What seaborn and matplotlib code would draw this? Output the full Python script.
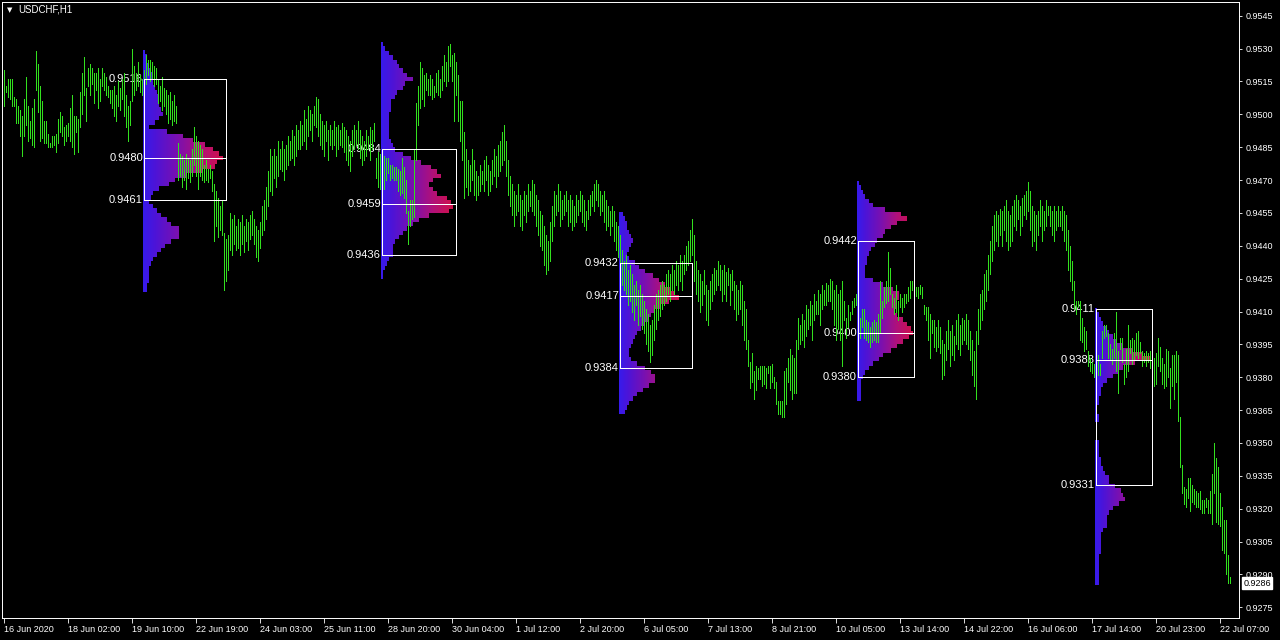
import matplotlib
matplotlib.use('Agg')
import matplotlib.pyplot as plt
from matplotlib.patches import Rectangle
from matplotlib.transforms import blended_transform_factory
import numpy as np
import seaborn as sns

symbol = 'USDCHF,H1'
last_price = 0.9286

# hourly bars, high / low in pips above 0.9000
bar_high = [
    520, 513, 516, 516, 516, 508, 507, 504, 502, 499,
    507, 517, 504, 497, 503, 507, 529, 523, 513, 506,
    497, 497, 491, 487, 490, 490, 491, 498, 501, 499,
    494, 495, 496, 503, 509, 499, 499, 498, 510, 519,
    526, 512, 521, 523, 521, 519, 519, 521, 516, 521,
    519, 517, 513, 511, 511, 513, 509, 515, 512, 516,
    519, 509, 504, 506, 530, 522, 519, 524, 518, 516,
    520, 527, 525, 525, 524, 522, 521, 516, 513, 517,
    512, 511, 509, 510, 506, 509, 504, 487, 482, 481,
    479, 482, 480, 479, 484, 494, 490, 488, 486, 484,
    477, 479, 475, 477, 474, 468, 465, 462, 458, 461,
    446, 443, 445, 455, 452, 454, 449, 452, 451, 454,
    449, 452, 451, 454, 456, 452, 449, 447, 451, 458,
    461, 467, 474, 484, 481, 484, 481, 488, 484, 488,
    484, 486, 490, 488, 493, 490, 495, 493, 497, 495,
    502, 498, 504, 502, 500, 504, 508, 507, 500, 497,
    495, 497, 493, 495, 493, 497, 494, 495, 493, 496,
    494, 493, 490, 488, 493, 495, 493, 497, 493, 490,
    488, 493, 490, 494, 493, 496, 480, 483, 482, 481,
    481, 480, 480, 477, 477, 476, 476, 475, 474, 480,
    476, 470, 456, 461, 461, 484, 505, 513, 524, 521,
    518, 519, 516, 518, 516, 513, 519, 520, 516, 522,
    527, 524, 531, 532, 527, 528, 524, 518, 506, 506,
    492, 484, 479, 477, 484, 479, 474, 472, 477, 474,
    479, 481, 477, 474, 479, 484, 481, 486, 488, 492,
    495, 488, 479, 472, 468, 465, 463, 468, 463, 461,
    465, 463, 468, 465, 470, 468, 463, 461, 456, 454,
    449, 445, 442, 451, 458, 465, 463, 468, 465, 461,
    463, 465, 461, 463, 461, 458, 463, 461, 465, 463,
    461, 456, 461, 463, 465, 468, 470, 468, 465, 463,
    465, 461, 458, 456, 458, 456, 451, 449, 445, 438,
    433, 436, 429, 431, 427, 422, 424, 420, 422, 418,
    415, 411, 409, 404, 406, 413, 418, 420, 422, 424,
    422, 427, 429, 427, 431, 429, 433, 431, 436, 433,
    436, 440, 442, 447, 452, 445, 433, 429, 427, 424,
    429, 422, 420, 424, 427, 430, 429, 433, 431, 429,
    431, 428, 430, 427, 429, 424, 422, 420, 424, 422,
    415, 411, 397, 387, 391, 383, 385, 384, 385, 385,
    385, 384, 385, 385, 386, 380, 378, 369, 369, 369,
    383, 384, 389, 393, 390, 389, 397, 407, 404, 409,
    406, 413, 411, 415, 413, 418, 415, 420, 418, 422,
    420, 423, 422, 425, 424, 420, 422, 418, 420, 424,
    415, 407, 413, 410, 415, 416, 418, 417, 407, 411,
    411, 406, 405, 403, 405, 406, 405, 409, 424, 415,
    421, 424, 437, 430, 418, 416, 422, 415, 418, 416,
    418, 418, 421, 424, 424, 423, 421, 421, 422, 421,
    413, 412, 412, 409, 406, 406, 403, 406, 403, 397,
    395, 401, 406, 401, 404, 399, 406, 409, 404, 407,
    406, 409, 406, 401, 397, 392, 401, 411, 418, 420,
    427, 429, 436, 442, 449, 454, 456, 454, 457, 456,
    458, 461, 456, 454, 458, 461, 463, 461, 458, 462,
    463, 465, 469, 465, 458, 456, 454, 456, 461, 458,
    456, 461, 458, 458, 456, 458, 456, 458, 456, 458,
    456, 454, 447, 440, 433, 424, 415, 415, 415, 407,
    403, 401, 392, 389, 387, 386, 397, 390, 386, 401,
    404, 404, 400, 395, 393, 400, 410, 392, 398, 398,
    386, 393, 404, 397, 398, 397, 400, 401, 396, 392,
    391, 392, 391, 392, 390, 389, 391, 398, 394, 389,
    386, 393, 392, 384, 390, 390, 392, 390, 362, 340,
    330, 329, 334, 334, 331, 329, 328, 327, 328, 324,
    324, 325, 324, 328, 336, 350, 343, 339, 327, 321,
    315, 315, 299, 289,
]
bar_low = [
    504, 510, 508, 507, 504, 504, 496, 496, 490, 481,
    490, 495, 488, 489, 486, 485, 511, 501, 488, 489,
    487, 487, 485, 485, 485, 486, 483, 487, 492, 490,
    486, 488, 490, 488, 485, 482, 492, 483, 494, 500,
    509, 497, 513, 509, 514, 505, 511, 503, 506, 513,
    511, 509, 508, 505, 503, 499, 497, 504, 502, 507,
    499, 494, 488, 495, 506, 509, 511, 513, 510, 509,
    510, 514, 518, 515, 516, 513, 514, 505, 506, 502,
    504, 500, 496, 498, 495, 497, 496, 470, 472, 467,
    470, 466, 471, 469, 472, 477, 472, 466, 472, 470,
    469, 470, 469, 471, 465, 442, 449, 444, 447, 445,
    420, 424, 429, 438, 436, 441, 438, 439, 436, 441,
    437, 442, 438, 443, 445, 441, 435, 433, 439, 445,
    447, 452, 458, 465, 463, 471, 467, 472, 475, 474,
    470, 475, 477, 479, 480, 477, 481, 484, 484, 486,
    488, 484, 490, 493, 488, 495, 494, 490, 486, 484,
    481, 488, 479, 486, 484, 486, 481, 484, 486, 485,
    483, 479, 477, 474, 481, 484, 486, 484, 480, 477,
    479, 481, 484, 479, 484, 488, 471, 467, 466, 467,
    466, 470, 473, 470, 471, 470, 470, 465, 463, 464,
    462, 455, 441, 449, 452, 453, 479, 495, 503, 507,
    504, 511, 509, 509, 507, 508, 510, 509, 508, 511,
    515, 513, 515, 522, 515, 497, 509, 497, 488, 479,
    462, 467, 463, 465, 470, 463, 461, 463, 465, 468,
    465, 470, 463, 465, 468, 472, 467, 472, 474, 477,
    479, 472, 463, 458, 454, 449, 454, 456, 449, 447,
    454, 451, 456, 458, 456, 454, 449, 445, 440, 438,
    431, 427, 429, 433, 442, 449, 454, 456, 449, 452,
    454, 456, 449, 451, 447, 449, 451, 454, 456, 451,
    449, 447, 452, 454, 458, 456, 461, 458, 454, 456,
    451, 447, 449, 445, 449, 442, 438, 435, 429, 422,
    420, 418, 413, 415, 410, 406, 413, 404, 408, 402,
    400, 395, 392, 387, 390, 397, 402, 406, 408, 411,
    413, 415, 418, 415, 420, 418, 422, 420, 424, 420,
    427, 429, 431, 433, 436, 424, 418, 415, 410, 413,
    418, 406, 404, 411, 415, 418, 420, 422, 420, 415,
    418, 415, 422, 413, 420, 411, 406, 409, 411, 404,
    397, 393, 385, 375, 378, 370, 374, 379, 379, 376,
    377, 375, 382, 375, 378, 375, 368, 363, 363, 362,
    362, 368, 378, 374, 370, 373, 373, 393, 395, 397,
    394, 399, 402, 404, 397, 406, 409, 409, 404, 411,
    413, 413, 415, 415, 411, 404, 397, 402, 397, 385,
    406, 398, 403, 406, 409, 412, 413, 406, 398, 403,
    398, 397, 396, 394, 396, 397, 396, 396, 400, 407,
    412, 414, 415, 418, 412, 409, 410, 406, 412, 410,
    412, 414, 415, 416, 420, 418, 417, 416, 418, 416,
    409, 406, 397, 389, 400, 394, 392, 394, 391, 379,
    381, 388, 393, 385, 390, 388, 395, 393, 390, 395,
    397, 395, 393, 388, 381, 376, 370, 395, 402, 406,
    411, 415, 420, 427, 433, 438, 442, 440, 445, 440,
    447, 442, 438, 440, 442, 449, 447, 452, 445, 449,
    454, 452, 456, 447, 440, 442, 438, 445, 449, 442,
    447, 449, 454, 449, 445, 442, 447, 449, 449, 447,
    442, 438, 429, 424, 420, 411, 409, 412, 397, 396,
    392, 393, 385, 383, 382, 380, 385, 381, 381, 389,
    398, 399, 389, 388, 386, 389, 383, 373, 393, 387,
    377, 380, 383, 391, 386, 388, 390, 389, 391, 385,
    387, 385, 387, 384, 381, 376, 377, 385, 383, 377,
    375, 376, 380, 366, 376, 370, 378, 360, 339, 327,
    322, 321, 325, 319, 323, 322, 321, 321, 320, 318,
    318, 321, 318, 318, 313, 327, 314, 313, 312, 301,
    300, 290, 286, 286,
]

time_labels = ['16 Jun 2020', '18 Jun 02:00', '19 Jun 10:00', '22 Jun 19:00',
               '24 Jun 03:00', '25 Jun 11:00', '28 Jun 20:00', '30 Jun 04:00',
               '1 Jul 12:00', '2 Jul 20:00', '6 Jul 05:00', '7 Jul 13:00',
               '8 Jul 21:00', '10 Jul 05:00', '13 Jul 14:00', '14 Jul 22:00',
               '16 Jul 06:00', '17 Jul 14:00', '20 Jul 23:00', '22 Jul 07:00']
bars_per_label = 32

price_ticks = [0.9275, 0.9290, 0.9305, 0.9320, 0.9335, 0.9350, 0.9365, 0.9380,
               0.9395, 0.9410, 0.9425, 0.9440, 0.9455, 0.9470, 0.9485, 0.9500,
               0.9515, 0.9530, 0.9545]

# market profiles: start bar, top bin (pips), TPO counts per 2-pip bin (top -> bottom)
prof_start = [70, 189, 308, 427, 546]
prof_top = [528, 532, 454, 468, 410]
prof1 = [1, 2, 2, 3, 4, 5, 5, 5, 6, 7, 8, 8, 8, 9, 10, 8, 6, 3, 12, 20,
         25, 31, 35, 38, 40, 37, 36, 30, 22, 16, 13, 8, 5, 4, 3, 5, 7, 9, 12, 14,
         18, 18, 18, 14, 11, 9, 7, 5, 4, 3, 3, 3, 3, 2, 2]
prof2 = [1, 2, 4, 6, 8, 9, 11, 13, 16, 12, 11, 8, 7, 5, 5, 5, 4, 4, 4, 4,
         4, 4, 5, 6, 7, 11, 15, 20, 25, 28, 30, 26, 24, 26, 28, 33, 35, 36, 34, 24,
         19, 16, 13, 11, 9, 7, 6, 6, 6, 4, 3, 2, 1, 1]
prof3 = [2, 3, 4, 4, 5, 6, 7, 6, 5, 4, 5, 8, 10, 13, 17, 20, 23, 26, 28, 30,
         25, 21, 18, 16, 15, 13, 11, 9, 8, 7, 6, 5, 5, 6, 9, 13, 16, 18, 18, 15,
         12, 9, 7, 5, 4, 3]
prof4 = [1, 2, 3, 4, 6, 8, 14, 22, 25, 20, 17, 14, 13, 10, 9, 7, 6, 5, 5, 4,
         4, 4, 8, 13, 18, 21, 21, 20, 20, 19, 20, 23, 25, 27, 28, 26, 23, 20, 17, 13,
         11, 8, 6, 4, 3, 2, 2, 2, 2, 2]
prof5 = [1, 2, 3, 4, 6, 7, 9, 11, 14, 19, 24, 28, 20, 14, 12, 9, 6, 4, 3, 3,
         2, 2, 1, 1, 2, 2, 0, 0, 0, 0, 2, 2, 2, 2, 3, 3, 4, 5, 7, 7,
         10, 13, 14, 15, 12, 9, 7, 6, 6, 6, 4, 3, 3, 3, 3, 3, 2, 2, 2, 2,
         2, 2, 2]
profiles = [prof1, prof2, prof3, prof4, prof5]
va_high = [0.9516, 0.9484, 0.9432, 0.9442, 0.9411]
poc = [0.9480, 0.9459, 0.9417, 0.9400, 0.9388]
va_low = [0.9461, 0.9436, 0.9384, 0.9380, 0.9331]
box_bars = [41, 37, 36, 28, 28]

bar_color = '#32e01e'

sns.set_style('dark', {'axes.facecolor': 'black', 'figure.facecolor': 'black',
                       'axes.edgecolor': 'white', 'axes.grid': False})
plt.rcParams['font.family'] = ['Liberation Sans', 'DejaVu Sans']

fig = plt.figure(figsize=(12.8, 6.4), dpi=100)
ax = fig.add_axes([2 / 1280, 22 / 640, 1237 / 1280, 616 / 640])
ax.set_facecolor('black')

cmap = sns.blend_palette(['#2222ff', '#4c14d8', '#7a10b0', '#b0107a', '#d0104a'],
                         as_cmap=True)

for s, top, counts in zip(prof_start, prof_top, profiles):
    counts = np.array(counts, dtype=float)
    n = len(counts)
    cols = int(counts.max() * 2)
    d = (np.arange(cols) + 0.5) * 0.5
    rgba = np.zeros((n, cols, 4))
    rgba[:] = cmap(np.clip(0.12 + 0.88 * d / counts.max(), 0, 1))[None, :, :]
    rgba[..., 3] = (d[None, :] < counts[:, None]).astype(float)
    x0 = s - 0.25
    y_top = 0.9 + (top + 1) / 1e4
    y_bot = 0.9 + (top - 2 * (n - 1) - 1) / 1e4
    ax.imshow(rgba, extent=(x0, x0 + cols * 0.5, y_bot, y_top), aspect='auto',
              interpolation='nearest', zorder=1)

x = np.arange(len(bar_high))
ax.vlines(x, 0.9 + np.array(bar_low) / 1e4, 0.9 + np.array(bar_high) / 1e4,
          colors=bar_color, linewidth=0.5, antialiased=False, zorder=2)

for s, hi, mid, lo, w in zip(prof_start, va_high, poc, va_low, box_bars):
    ax.add_patch(Rectangle((s, lo), w, hi - lo, fill=False, edgecolor='white',
                           linewidth=0.5, antialiased=False, zorder=3))
    ax.hlines(mid, s, s + w, colors='white', linewidth=0.5, antialiased=False, zorder=3)
    for v in (hi, mid, lo):
        ax.text(s - 0.3, v, f'{v:.4f}', ha='right', va='center', color='white',
                fontsize=8, zorder=1.5)

ax.set_xlim(-0.75, 617.75)
ax.set_ylim(0.927012, 0.955125)
ax.grid(False)

ax.yaxis.tick_right()
ax.set_yticks(price_ticks)
ax.set_yticklabels([f'{v:.4f}' for v in price_ticks])
ax.set_xticks(np.arange(len(time_labels)) * bars_per_label)
ax.set_xticklabels(time_labels)
for lab in ax.get_xticklabels():
    lab.set_ha('left')
ax.tick_params(axis='x', colors='white', length=3.5, width=0.6, pad=1.5,
               labelsize=6.5, direction='out', bottom=True)
ax.tick_params(axis='y', colors='white', length=2.5, width=0.6, pad=2,
               labelsize=6.5, direction='out', right=True, left=False)
for sp in ax.spines.values():
    sp.set_visible(True)
    sp.set_color('white')
    sp.set_linewidth(0.7)

trans = blended_transform_factory(ax.transAxes, ax.transData)
ax.text(1.0035, last_price, f'{last_price:.4f}', transform=trans, ha='left', va='center',
        fontsize=6.5, color='black', clip_on=False, zorder=5,
        bbox=dict(boxstyle='square,pad=0.15', fc='white', ec='white'))

fig.text(7 / 1280, 1 - 10 / 640, '\u25bc', color='white', fontsize=5, va='center',
         ha='left', family='DejaVu Sans')
fig.text(18 / 1280, 1 - 10 / 640, symbol, color='white', fontsize=7, va='center', ha='left')

fig.savefig('out.png', dpi=100, facecolor='black')
plt.close(fig)
